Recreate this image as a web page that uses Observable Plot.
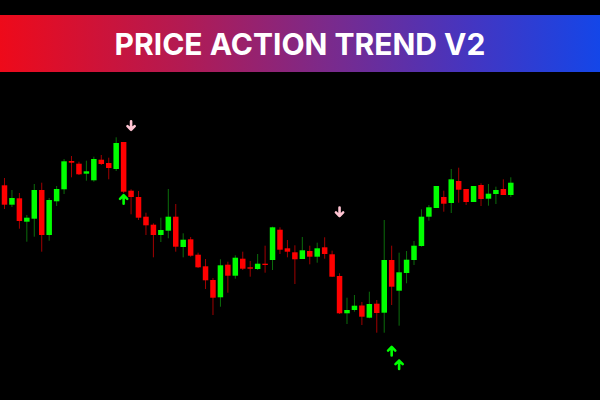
<!DOCTYPE html>
<html>
<head>
<meta charset="utf-8">
<script src="https://cdn.jsdelivr.net/npm/d3@7"></script>
<script src="https://cdn.jsdelivr.net/npm/@observablehq/plot@0.6"></script>
<style>
  html, body { margin: 0; padding: 0; background: #000; width: 600px; height: 400px; overflow: hidden; }
  #top { height: 15px; background: #000; }
  #banner { height: 57px; display: flex; align-items: center; justify-content: center;
    background: linear-gradient(90deg, #ee0a1a 0%, #b31a52 30%, #7a2a8c 55%, #4535c0 78%, #1446e8 100%);
    color: #fff; font-family: Inter, "Open Sans", sans-serif; font-weight: 700; font-size: 30px; letter-spacing: 0px; }
  #chart svg { display: block; }
</style>
</head>
<body>
<div id="top"></div>
<div id="banner">PRICE ACTION TREND V2</div>
<div id="chart"></div>
<script>
const title = "PRICE ACTION TREND V2";

const opens  = [214.7,195.3,201.7,178.3,181.3,210,165,198.7,210.7,239,236.3,226.3,219.7,240.3,237,231,258,209.3,203,183.3,175.3,165,169.3,183.3,153,160.7,145.3,133.7,120,102.7,135.3,124.3,141.3,132.7,131,136.3,140,170.3,151.7,147.7,141,149,143.3,152.7,145.7,124,86.7,90,94.5,82.3,96.3,87.3,140,109.3,127,140,154,183.3,192,203,197,219,211,198,215,201.3,206,211,205];
const closes = [195.3,202,179,182.3,210,165,200,211,238.7,237.3,225.7,228.7,241,236,232,257,208.3,203,182.3,174.7,165,170,183.3,153.3,160.3,144.3,132.7,119.7,102.3,134.7,124.3,142.3,131.3,131.3,136.3,135.3,172.7,150.3,148.3,140.7,149.7,143.3,151.7,146,123.3,86.7,90,94.3,83.3,96,87,140,113.3,127.7,140.3,154.3,183.3,192.7,214,196.3,220.7,210.3,198,214,201,206.3,210,205,217.3];
const highs  = [222,210,207,185,216,217.3,202,214,241,244,238.3,239.3,243.3,245,242.3,262.7,258,210.7,209,187.3,176.7,182.3,211,196,166.7,163,147.3,141,122,140.7,138.3,144.7,148.3,139,146,154.3,173.3,172.7,160,154.7,163,154.3,157.3,162.7,149.3,126.7,102.3,105,98,108.3,100,180,154.3,147.3,149,159,190.7,195,214,209.3,231,232.3,211,214,216.7,216,213.3,220.7,222.7];
const lows   = [191,193,171.3,158.3,163.3,148.3,159.3,194,206,222.7,225,219.3,218.3,235,220.7,229,207,185.7,180,165,142.7,158,161.7,148.3,142.7,143.3,132,111,85,93.3,107.3,121.3,130,123.3,130,127.3,130,146,142.7,116,141,135.7,137.3,141.3,123,86,76,88.3,75,81.7,67.3,67.3,95,74.3,116.7,135,153.3,179.3,192,188.3,187,197.3,195,198,194,194.3,196,205,203];

const upSignalIndex   = [16, 52, 53];
const upSignalPrice   = [201, 49.3, 35.7];
const downSignalIndex = [17, 45];
const downSignalPrice = [275, 188.7];

const candles = opens.map((o, i) => ({i, open: o, close: closes[i], high: highs[i], low: lows[i], up: closes[i] >= o}));
const ups = upSignalIndex.map((x, k) => ({i: x, price: upSignalPrice[k]}));
const downs = downSignalIndex.map((x, k) => ({i: x, price: downSignalPrice[k]}));

const arrowShape = {
  draw(context, l) {
    const w = 3.6;
    context.moveTo(0, 0);
    context.lineTo(0, -l);
    context.moveTo(-w, w - l);
    context.lineTo(0, -l);
    context.lineTo(w, w - l);
  }
};

const chart = Plot.plot({
  width: 600,
  height: 328,
  margin: 0,
  style: {background: "#000"},
  x: {domain: [0, 68], range: [4, 510.3], axis: null},
  y: {domain: [0, 328], range: [328, 0], axis: null},
  marks: [
    Plot.ruleX(candles, {x: "i", y1: "low", y2: "high", stroke: d => d.up ? "#0b6e0b" : "#a10000", strokeWidth: 1}),
    Plot.ruleX(candles, {x: "i", y1: "open", y2: d => Math.abs(d.close - d.open) < 1.3 ? d.open + (d.up ? 1.3 : -1.3) : d.close, stroke: d => d.up ? "#00ff00" : "#ff0000", strokeWidth: 5.5}),
    Plot.vector(ups, {x: "i", y: "price", length: 8.5, rotate: 0, shape: arrowShape, stroke: "#00ff00", strokeWidth: 2.6, anchor: "middle"}),
    Plot.vector(downs, {x: "i", y: "price", length: 8.5, rotate: 180, shape: arrowShape, stroke: "#ffc4d2", strokeWidth: 2.6, anchor: "middle"})
  ]
});
document.getElementById("chart").appendChild(chart);
</script>
</body>
</html>
